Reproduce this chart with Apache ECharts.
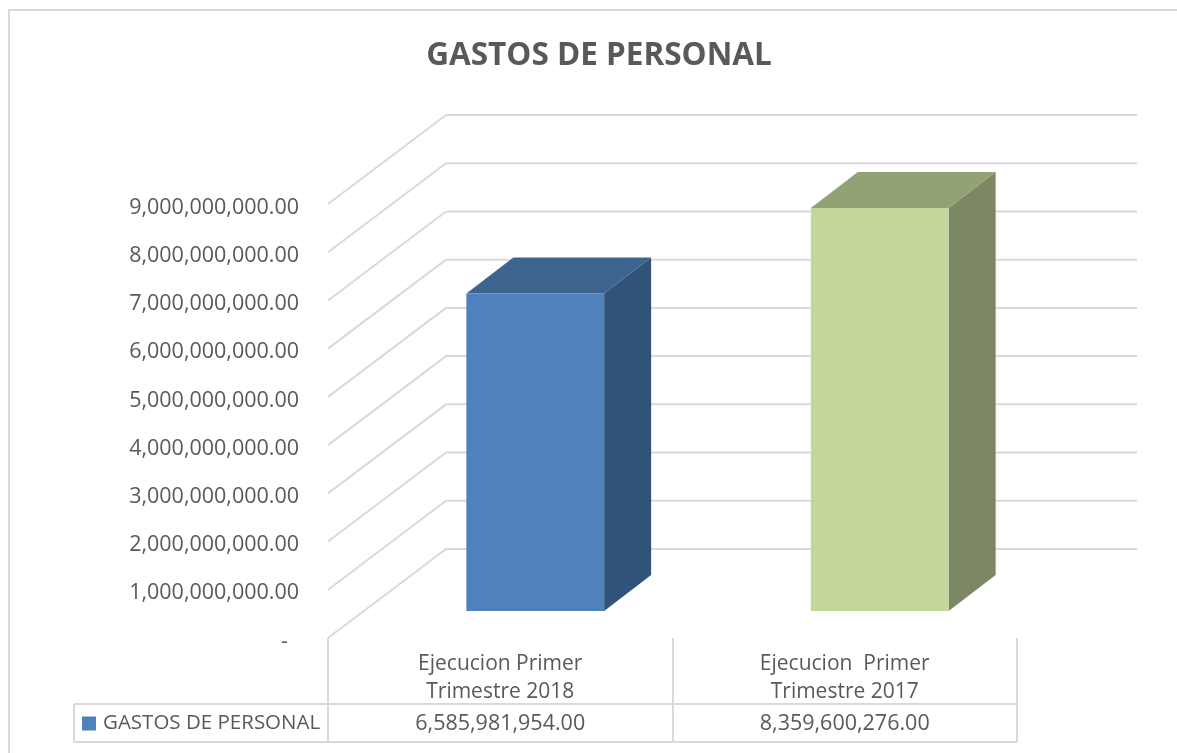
<!DOCTYPE html>
<html>
<head>
<meta charset="utf-8">
<style>html,body{margin:0;padding:0;background:#fff}#c{width:1177px;height:753px}</style>
<script src="https://cdn.jsdelivr.net/npm/echarts@6/dist/echarts.min.js"></script>
</head>
<body>
<div id="c"></div>
<script>
const chartTitle = 'GASTOS DE PERSONAL';
const seriesName = 'GASTOS DE PERSONAL';
const categories = ['Ejecucion Primer\nTrimestre 2018', 'Ejecucion  Primer\nTrimestre 2017'];
const values = [6585981954.00, 8359600276.00];
const tickValues = [0, 1e9, 2e9, 3e9, 4e9, 5e9, 6e9, 7e9, 8e9, 9e9];
const frontColors = ['#4f81bd', '#c3d69b'];
const topColors = ['#3c648f', '#93a275'];
const sideColors = ['#325379', '#7c8763'];

const FONT = '"Open Sans", sans-serif';
const TEXT = '#595959';
const GRID = '#d9d9d9';
const WALL_DX = 118, WALL_DY = -89;
const BAR_DX = 35, BAR_DY = -27, DEPTH_DX = 47, DEPTH_DY = -36;
const fmt = v => v.toLocaleString('en-US', {minimumFractionDigits: 2, maximumFractionDigits: 2});

const chart = echarts.init(document.getElementById('c'), null, {renderer: 'canvas'});
const line = (x1, y1, x2, y2) => ({type: 'line', shape: {x1, y1, x2, y2}, style: {stroke: GRID, lineWidth: 2, fill: null}});

chart.setOption({
  animation: false,
  backgroundColor: '#fff',
  title: {
    text: chartTitle, left: 594, top: 35, textAlign: 'center',
    textStyle: {fontFamily: FONT, fontWeight: 'bold', fontSize: 31.5, color: TEXT}
  },
  graphic: [{
    type: 'rect', silent: true, z: -10,
    shape: {x: 9, y: 10, width: 1300, height: 900},
    style: {fill: 'none', stroke: GRID, lineWidth: 2}
  }],
  legend: {
    show: true, left: 77, top: 708, itemWidth: 14, itemHeight: 14, itemGap: 7,
    icon: 'rect', selectedMode: false,
    data: [seriesName],
    textStyle: {fontFamily: FONT, fontSize: 20.5, color: TEXT, padding: [0, 0, 0, 2]}
  },
  grid: {left: 328, top: 204, width: 689, height: 434, containLabel: false},
  xAxis: {
    type: 'category', data: categories,
    axisLine: {show: false},
    axisTick: {show: true, length: 104, lineStyle: {color: GRID, width: 2}},
    axisLabel: {fontFamily: FONT, fontSize: 21, color: TEXT, margin: 12, lineHeight: 28, interval: 0}
  },
  yAxis: {
    type: 'value', min: 0, max: 9e9, interval: 1e9,
    splitLine: {show: false}, axisLine: {show: false}, axisTick: {show: false},
    axisLabel: {
      fontFamily: FONT, fontSize: 21.5, color: TEXT, margin: 29,
      formatter: v => '{t|' + (v === 0 ? '-\u00a0\u00a0' : fmt(v)) + '}',
      rich: {t: {fontFamily: FONT, fontSize: 21.5, color: TEXT, padding: [7, 0, 0, 0]}}
    }
  },
  series: [
    {
      name: 'walls', type: 'custom', silent: true, z: 1, legendHoverLink: false,
      data: tickValues.map(v => [0, v]),
      renderItem(params, api) {
        const right = api.coord([1, 0])[0] + api.size([1, 0])[0] / 2;
        const y = api.coord([0, api.value(1)])[1];
        const x0 = params.coordSys.x;
        const xb = x0 + WALL_DX, yb = y + WALL_DY;
        return {type: 'group', children: [line(x0, y, xb, yb), line(xb, yb, right + 120, yb)]};
      }
    },
    {
      name: seriesName, type: 'custom', z: 3,
      itemStyle: {color: frontColors[0]},
      encode: {x: 0, y: 1},
      data: values.map((v, i) => [i, v]),
      renderItem(params, api) {
        const i = api.value(0);
        const c = api.coord([i, api.value(1)]);
        const base = api.coord([i, 0]);
        const w = api.size([1, 0])[0] * 0.4;
        const x1 = c[0] + BAR_DX - w / 2, x2 = x1 + w;
        const yt = c[1] + BAR_DY, yb = base[1] + BAR_DY;
        const dx = DEPTH_DX, dy = DEPTH_DY;
        return {type: 'group', children: [
          {type: 'polygon', shape: {points: [[x2, yt], [x2 + dx, yt + dy], [x2 + dx, yb + dy], [x2, yb]]}, style: {fill: sideColors[i]}},
          {type: 'polygon', shape: {points: [[x1, yt], [x1 + dx, yt + dy], [x2 + dx, yt + dy], [x2, yt]]}, style: {fill: topColors[i]}},
          {type: 'rect', shape: {x: x1, y: yt, width: w, height: yb - yt}, style: {fill: frontColors[i]}}
        ]};
      }
    },
    {
      name: 'table', type: 'custom', silent: true, z: 2,
      data: values.map((v, i) => [i, v]),
      renderItem(params, api) {
        const i = api.value(0);
        const cx = api.coord([i, 0])[0];
        const band = api.size([1, 0])[0];
        const base = api.coord([i, 0])[1];
        const rowTop = base + 66, rowBottom = base + 104;
        const leftEdge = i === 0 ? 74 : cx - band / 2;
        return {type: 'group', children: [
          line(leftEdge, rowTop, cx + band / 2, rowTop),
          line(leftEdge, rowBottom, cx + band / 2, rowBottom),
          ...(i === 0 ? [line(74, rowTop, 74, rowBottom)] : []),
          {type: 'text', x: cx, y: (rowTop + rowBottom) / 2 + 1,
           style: {text: fmt(api.value(1)), fontFamily: FONT, fontSize: 21.5, fill: TEXT, align: 'center', verticalAlign: 'middle'}}
        ]};
      }
    }
  ]
});
</script>
</body>
</html>
